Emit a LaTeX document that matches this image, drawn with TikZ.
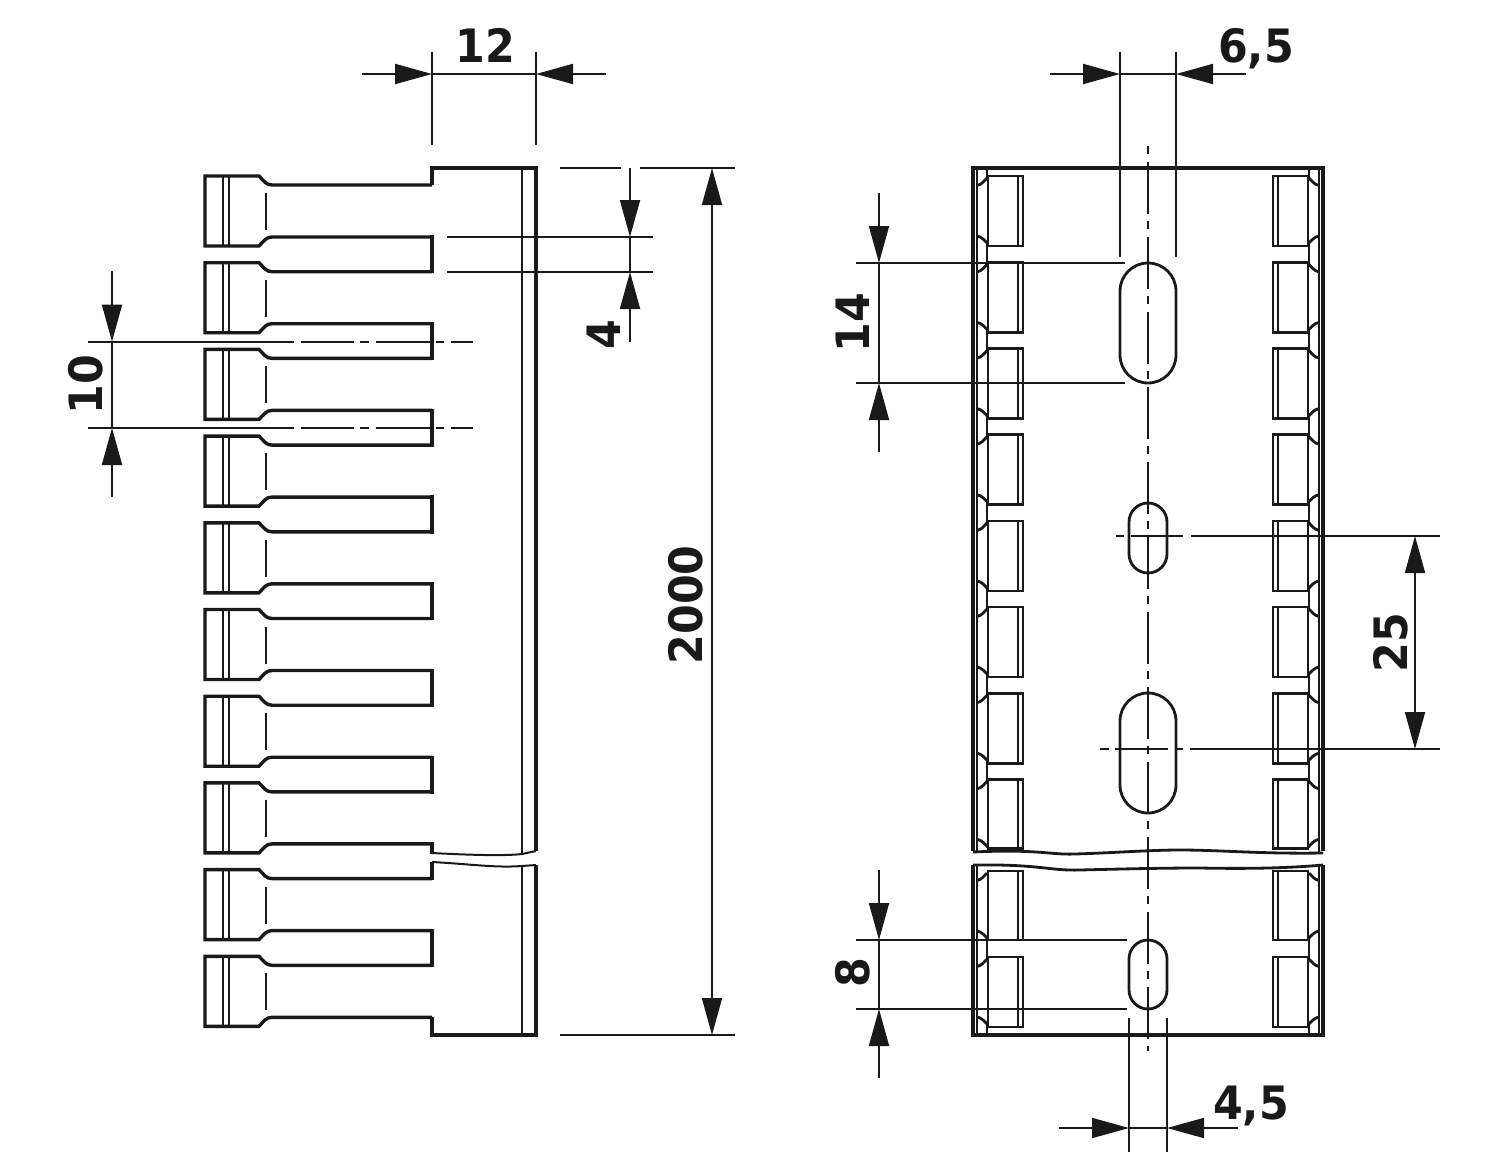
\documentclass[tikz,border=0pt]{standalone}
\usepackage{fontspec}
\setmainfont[FakeStretch=0.93]{DejaVu Sans}
\usetikzlibrary{arrows.meta}

\tikzset{
  outline/.style={line width=3.4pt, black!90, line join=miter},
  midline/.style={line width=2.8pt, black!90},
  thinline/.style={line width=2pt, black!90},
  dimline/.style={line width=1.8pt, black!90, -{Triangle[length=37pt,width=20pt]}},
  extline/.style={line width=1.8pt, black!90},
  centerline/.style={line width=2.2pt, black!90, dash pattern=on 8pt off 8pt on 52pt off 7pt},
  dimtext/.style={font=\fontsize{46}{46}\selectfont\bfseries, text=black!90, inner sep=0pt},
}

\begin{document}
\begin{tikzpicture}[x=1pt,y=-1pt]
\useasboundingbox (0,0) rectangle (1500,1172);

% side view, body
\draw[outline] (432,185)--(432,168)--(536,168)--(536,851);
\draw[outline] (536,865)--(536,1035)--(432,1035)--(432,1017);
\draw[thinline] (522,168)--(522,854);
\draw[thinline] (522,866)--(522,1035);
\draw[thinline] (432,853) .. controls (470,855) and (505,856) .. (522,854)--(536,851);
\draw[thinline] (432,862) .. controls (470,864) and (495,868) .. (522,866)--(536,865);

% side view, teeth
\foreach \k in {0,...,9}{
  \pgfmathsetmacro{\y}{176+86.7*\k}
  \draw[outline] (432,\y+9)--(272,\y+9) .. controls (266,\y+9) and (264,\y+5) .. (259,\y)--(205,\y)--(205,\y+70)--(259,\y+70) .. controls (264,\y+65) and (266,\y+61) .. (272,\y+61)--(432,\y+61);
  \draw[thinline] (222.5,\y)--(222.5,\y+70);
  \draw[thinline] (229,\y)--(229,\y+70);
  \draw[extline, line width=1.2pt] (266,\y+17)--(266,\y+54);
}
\foreach \k in {0,...,6,8}{
  \pgfmathsetmacro{\y}{176+86.7*\k}
  \draw[outline] (432,\y+59.3)--(432,\y+97.4);
}
\draw[outline] (432,842.2)--(432,854);
\draw[outline] (432,862)--(432,880.4);

% front view, rail
\draw[outline, line width=4pt] (973,851)--(973,168);
\draw[outline, line width=4pt] (1323,168)--(1323,851);
\draw[outline, line width=4pt] (973,865)--(973,1035);
\draw[outline, line width=4pt] (1323,1035)--(1323,865);
\draw[outline] (971,168)--(1325,168);
\draw[outline] (971,1035)--(1325,1035);
\draw[midline] (973,852) .. controls (1040,849) and (1050,855) .. (1075,854) .. controls (1110,853) and (1150,850) .. (1180,850) .. controls (1220,850) and (1260,854) .. (1323,853);
\draw[midline] (973,865) .. controls (1040,864) and (1050,871) .. (1080,870) .. controls (1120,869) and (1160,868) .. (1200,868) .. controls (1250,869) and (1290,868) .. (1323,865);

% front view, both edges
\foreach \s in {1,-1}{
\begin{scope}[shift={(1148,0)},xscale=\s]
  \draw[thinline] (-171,168)--(-171,852);
  \draw[thinline] (-171,865)--(-171,1035);
  \draw[thinline] (-161,168)--(-161,178);
  \draw[thinline] (-161,1024)--(-161,1035);
  \foreach \y/\h in {176/70, 262.4/70, 348.6/70, 434.7/70, 520.9/70, 607/70, 693.2/70, 779.3/69, 871/69, 957/70}{
    \draw[outline, line width=2.6pt] (-125,\y) rectangle (-160,\y+\h);
    \draw[thinline] (-130,\y)--(-130,\y+\h);
    \draw[midline] (-171,\y+9.5) .. controls (-166,\y+8.5) and (-164,\y+5) .. (-161,\y+2);
    \draw[midline] (-171,\y+60) .. controls (-166,\y+61) and (-164,\y+64) .. (-160,\y+68);
  }
  \foreach \y in {176, 262.4, 348.6, 434.7, 520.9, 607, 693.2, 871}{
    \draw[thinline] (-161,\y+66)--(-161,\y+88.5);
  }
\end{scope}
}

% front view, slots
\draw[midline] (1120,291) arc[start angle=180, end angle=360, radius=28]--(1176,355) arc[start angle=0, end angle=180, radius=28]--cycle;
\draw[midline] (1120,721) arc[start angle=180, end angle=360, radius=28]--(1176,785) arc[start angle=0, end angle=180, radius=28]--cycle;
\draw[midline] (1129,522) arc[start angle=180, end angle=360, radius=19]--(1167,554) arc[start angle=0, end angle=180, radius=19]--cycle;
\draw[midline] (1129,959) arc[start angle=180, end angle=360, radius=19]--(1167,990) arc[start angle=0, end angle=180, radius=19]--cycle;

% center lines
\draw[centerline] (1148,146)--(1148,1051);
\draw[extline] (88,341.6)--(294,341.6) (301,341.6)--(354,341.6) (360,341.6)--(369,341.6) (376,341.6)--(430,341.6) (436,341.6)--(444,341.6) (451,341.6)--(473,341.6);
\draw[extline] (88,428)--(294,428) (301,428)--(354,428) (360,428)--(369,428) (376,428)--(430,428) (436,428)--(444,428) (451,428)--(473,428);
\draw[extline] (1116,536)--(1124,536) (1131,536)--(1183,536) (1191,536)--(1440,536);
\draw[extline] (1100,749)--(1109,749) (1115,749)--(1168,749) (1176,749)--(1183,749) (1190,749)--(1440,749);

% dimension 12
\draw[extline] (432,52)--(432,145);
\draw[extline] (536,52)--(536,145);
\draw[dimline] (362,74)--(432,74);
\draw[dimline] (606,74)--(536,74);
\draw[extline] (432,74)--(536,74);
\node[dimtext] (dimtwelve) at (485,45) {12};

% dimension 4
\draw[extline] (447,237)--(653,237);
\draw[extline] (447,272)--(653,272);
\draw[extline] (560,168)--(621,168);
\draw[extline] (640,168)--(735,168);
\draw[dimline] (630,168)--(630,237);
\draw[dimline] (630,342)--(630,272);
\draw[extline] (630,237)--(630,272);
\node[dimtext, rotate=90] (dimfour) at (604,335) {4};

% dimension 10
\draw[dimline] (112,271)--(112,341.6);
\draw[dimline] (112,497)--(112,428);
\draw[extline] (112,341.6)--(112,428);
\node[dimtext, rotate=90] (dimten) at (86,385) {10};

% dimension 2000
\draw[extline] (560,1035)--(735,1035);
\draw[dimline] (712,600)--(712,168);
\draw[dimline] (712,600)--(712,1035);
\node[dimtext, rotate=90] (dimtotal) at (686,605) {2000};

% dimension 6,5
\draw[extline] (1120,52)--(1120,257);
\draw[extline] (1176,52)--(1176,257);
\draw[dimline] (1050,74)--(1120,74);
\draw[dimline] (1246,74)--(1176,74);
\draw[extline] (1120,74)--(1176,74);
\node[dimtext] (dimwide) at (1256,49) {6,5};

% dimension 14
\draw[extline] (856,263)--(1125,263);
\draw[extline] (856,383)--(1125,383);
\draw[dimline] (879,193)--(879,263);
\draw[dimline] (879,452)--(879,383);
\draw[extline] (879,263)--(879,383);
\node[dimtext, rotate=90] (dimlong) at (853,323) {14};

% dimension 25
\draw[dimline] (1415,640)--(1415,536);
\draw[dimline] (1415,640)--(1415,749);
\node[dimtext, rotate=90] (dimpitch) at (1391,643) {25};

% dimension 8
\draw[extline] (856,940)--(1127,940);
\draw[extline] (856,1009)--(1127,1009);
\draw[dimline] (879,870)--(879,940);
\draw[dimline] (879,1078)--(879,1009);
\draw[extline] (879,940)--(879,1009);
\node[dimtext, rotate=90] (dimeight) at (853,973) {8};

% dimension 4,5
\draw[extline] (1129,1018)--(1129,1152);
\draw[extline] (1167,1018)--(1167,1152);
\draw[dimline] (1059,1128)--(1129,1128);
\draw[dimline] (1238,1128)--(1167,1128);
\draw[extline] (1129,1128)--(1167,1128);
\node[dimtext] (dimnarrow) at (1251,1106) {4,5};

\end{tikzpicture}
\end{document}
